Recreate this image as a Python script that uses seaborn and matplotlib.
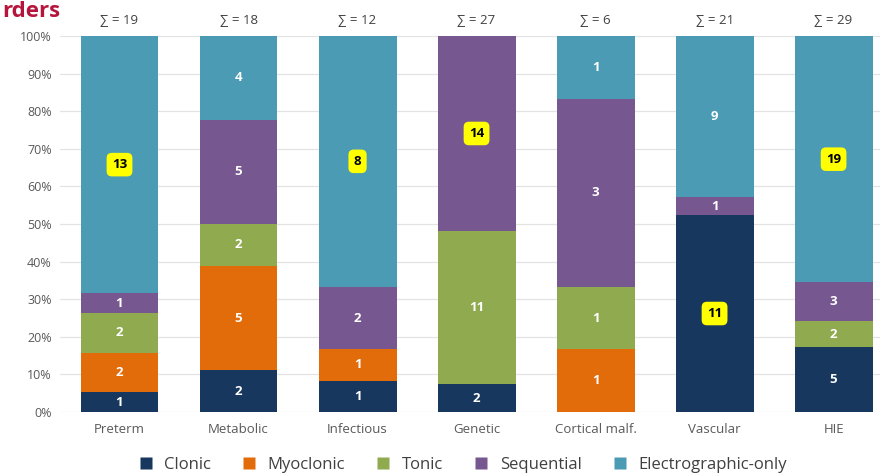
import matplotlib
matplotlib.use("Agg")
import matplotlib.pyplot as plt
import seaborn as sns
import numpy as np
import pandas as pd
from matplotlib.lines import Line2D

categories = ["Preterm", "Metabolic", "Infectious", "Genetic", "Cortical malf.", "Vascular", "HIE"]
series = ["Clonic", "Myoclonic", "Tonic", "Sequential", "Electrographic-only"]
clonic = [1, 2, 1, 2, 0, 11, 5]
myoclonic = [2, 5, 1, 0, 1, 0, 0]
tonic = [2, 2, 0, 11, 1, 0, 2]
sequential = [1, 5, 2, 14, 3, 1, 3]
electro = [13, 4, 8, 0, 1, 9, 19]
# segments shown with a yellow highlight box: (category, series)
highlights = [("Preterm", "Electrographic-only"), ("Infectious", "Electrographic-only"),
              ("Genetic", "Sequential"), ("Vascular", "Clonic"), ("HIE", "Electrographic-only")]
colors = ["#17375E", "#E36C0A", "#8FAA4F", "#77578F", "#4A9BB3"]

sns.set_style("white")
plt.rcParams['font.family'] = ['Open Sans', 'DejaVu Sans']

counts = np.array([clonic, myoclonic, tonic, sequential, electro], dtype=float)
totals = counts.sum(axis=0)
pct = counts / totals * 100
cum = np.cumsum(pct, axis=0)

fig = plt.figure(figsize=(8.8, 4.75), dpi=100)
ax = fig.add_axes([60/880, 63/475, 820/880, 376/475])

# draw from top cumulative down so lower segments cover the upper ones
for i in range(len(series) - 1, -1, -1):
    df = pd.DataFrame({"cat": categories, "val": cum[i]})
    sns.barplot(data=df, x="cat", y="val", order=categories, color=colors[i],
                saturation=1, width=0.655, ax=ax, linewidth=0, zorder=3)

ax.set_xlim(-0.5, 6.39)
ax.set_ylim(0, 100)
ax.set_yticks(np.arange(0, 101, 10))
ax.set_yticklabels([f"{v}%" for v in range(0, 101, 10)], color="#595959", fontsize=9)
ax.set_xticks(range(len(categories)))
ax.set_xticklabels(categories, color="#595959", fontsize=9.5)
ax.tick_params(axis="both", length=0, pad=6)
ax.tick_params(axis="x", pad=8)
ax.set_xlabel("")
ax.set_ylabel("")
ax.yaxis.grid(True, color="#E3E3E3", linewidth=0.9, zorder=0)
ax.set_axisbelow(True)
for s in ax.spines.values():
    s.set_visible(False)

# segment labels
for j, cat in enumerate(categories):
    for i, ser in enumerate(series):
        v = counts[i, j]
        if v <= 0:
            continue
        yc = cum[i, j] - pct[i, j] / 2
        if (cat, ser) in highlights:
            ax.text(j, yc, f"{int(v)}", ha="center", va="center", fontsize=9.5,
                    fontweight="bold", color="black", zorder=5,
                    bbox=dict(boxstyle="round,pad=0.4,rounding_size=0.4",
                              facecolor="#FFFF00", edgecolor="none"))
        else:
            ax.text(j, yc, f"{int(v)}", ha="center", va="center", fontsize=9.5,
                    fontweight="bold", color="white", zorder=5)
    ax.text(j, 102.5, f"∑ = {int(totals[j])}", ha="center", va="bottom",
            fontsize=9.5, color="#404040", clip_on=False)

handles = [Line2D([0], [0], marker="s", linestyle="none", markersize=8,
                  markerfacecolor=c, markeredgecolor="none") for c in colors]
fig.legend(handles, series, loc="center", bbox_to_anchor=(458/880, 1 - 465/475),
           ncol=5, frameon=False, fontsize=12, handletextpad=0.1, columnspacing=1.3,
           labelcolor="#404040")

fig.text(2/880, 1 - 17/475, "rders", ha="left", va="baseline",
         fontsize=16, fontweight="bold", color="#B5143C")

fig.savefig("out.png", dpi=100)
